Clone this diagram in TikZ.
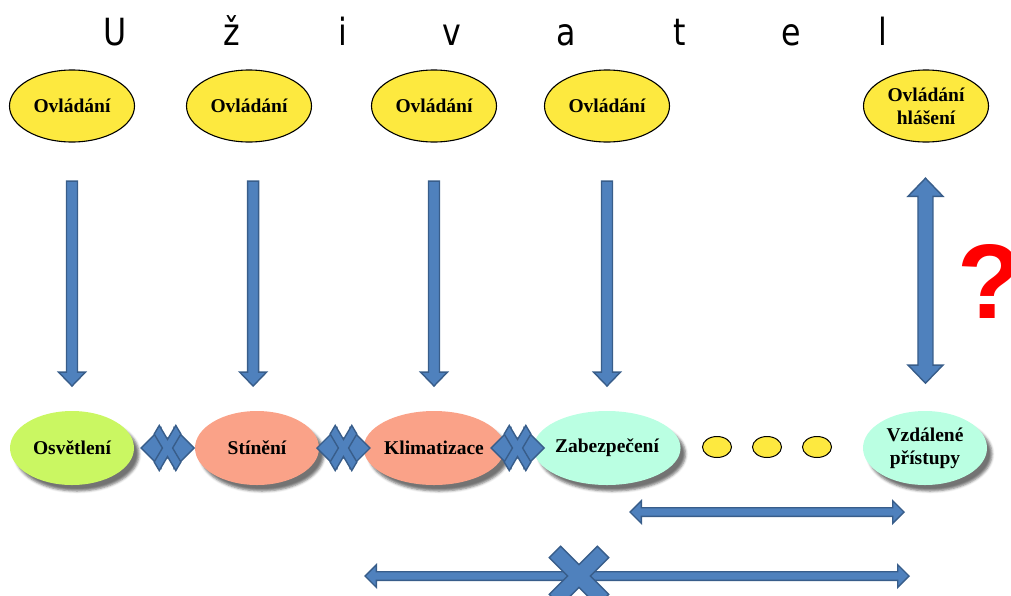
\documentclass[tikz,border=0pt]{standalone}
\usepackage{fontspec}
\setmainfont{Liberation Serif}
\newfontfamily\titlefont{DejaVu Sans}
\newfontfamily\markfont{Liberation Sans}
\usetikzlibrary{shapes.geometric,shapes.arrows,shadows.blur}
\definecolor{ctrlyellow}{RGB}{253,233,63}
\definecolor{limefill}{RGB}{202,247,98}
\definecolor{salmonfill}{RGB}{250,162,136}
\definecolor{mintfill}{RGB}{186,255,226}
\definecolor{arrowblue}{RGB}{79,129,189}
\definecolor{arrowedge}{RGB}{56,93,138}

\tikzset{
  pics/xmark/.style={code={
    \filldraw[fill=arrowblue, draw=arrowedge, line width=1.4pt, rotate=45]
      (8,8) -- (34,8) -- (34,-8) -- (8,-8) -- (8,-34) -- (-8,-34) -- (-8,-8)
      -- (-34,-8) -- (-34,8) -- (-8,8) -- (-8,34) -- (8,34) -- cycle;
  }}
}

\begin{document}
\begin{tikzpicture}[x=1pt,y=-1pt,
  lbl/.style={font=\fontsize{19.5}{23}\selectfont\bfseries, align=center, text=black},
  ctrl/.style={ellipse, draw=black, line width=1.1pt, fill=ctrlyellow,
    minimum width=125pt, minimum height=72pt, inner sep=0pt, lbl},
  dev/.style={ellipse, fill=#1, minimum width=124pt, minimum height=74pt,
    inner sep=0pt, lbl,
    blur shadow={shadow xshift=5pt, shadow yshift=-6pt,
      shadow blur radius=2.5pt, shadow opacity=55}},
  dotnode/.style={ellipse, draw=black, line width=1pt, fill=ctrlyellow,
    minimum width=29pt, minimum height=21pt, inner sep=0pt},
  blockbase/.style={fill=arrowblue, draw=arrowedge, line width=1.4pt},
  downarrow/.style={blockbase, single arrow, rotate=-90, inner sep=0pt,
    inner ysep=4.8pt, minimum height=205pt, minimum width=27pt,
    single arrow head extend=8pt, single arrow tip angle=88},
  bothway/.style={blockbase, double arrow, inner sep=0pt,
    inner ysep=6.8pt, minimum height=205pt, minimum width=35pt,
    double arrow head extend=10pt, double arrow tip angle=88},
  span/.style={blockbase, double arrow, inner sep=0pt,
    inner ysep=3.6pt, minimum height=#1, minimum width=22pt,
    double arrow head extend=7pt, double arrow tip angle=90},
  blocked/.style={blockbase, double arrow, inner sep=0pt,
    inner ysep=9pt, minimum height=53pt, minimum width=40pt,
    double arrow head extend=10pt, double arrow tip angle=90},
]
\useasboundingbox (0,0) rectangle (1011,595);

% heading, letter-spaced
\foreach \ch/\x [count=\i] in {U/115, ž/232, i/343, v/452, a/566, t/680, e/791, l/883}
  \node[font=\titlefont\fontsize{36}{36}\selectfont, anchor=base, inner sep=0pt,
        xscale=0.88, yscale=1.04]
    (title\i) at (\x,45) {\ch};

% control ellipses
\node[ctrl] (o1) at (72,106) {Ovládání};
\node[ctrl] (o2) at (249,106) {Ovládání};
\node[ctrl] (o3) at (434,106) {Ovládání};
\node[ctrl] (o4) at (607,106) {Ovládání};
\node[ctrl] (o5) at (926,106) {Ovládání\\hlášení};

% subsystems
\node[dev=limefill]   (d1) at (72,448)  {Osvětlení};
\node[dev=salmonfill] (d2) at (257,448) {Stínění};
\node[dev=salmonfill] (d3) at (434,448) {Klimatizace};
\node[dev=mintfill]   (d4) at (607,448) {Zabezpečení};
\node[dev=mintfill]   (d5) at (925,448) {Vzdálené\\přístupy};

% ellipsis dots
\node[dotnode] (e1) at (717,447) {};
\node[dotnode] (e2) at (767,447) {};
\node[dotnode] (e3) at (817,447) {};

% control arrows
\path (o1.south) -- (d1.north) node[pos=0.515, downarrow] (a1) {};
\path (o2.south) -- (d2.north) node[pos=0.515, downarrow] (a2) {};
\path (o3.south) -- (d3.north) node[pos=0.515, downarrow] (a3) {};
\path (o4.south) -- (d4.north) node[pos=0.515, downarrow] (a4) {};
\path (o5.south) -- (d5.north) node[pos=0.515, bothway, rotate=90] (a5) {};

% blocked links between neighbouring subsystems
\path (d1.east) -- (d2.west) coordinate[pos=0.55] (m12);
\path (d2.east) -- (d3.west) coordinate[pos=0.55] (m23);
\path (d3.east) -- (d4.west) coordinate[pos=0.45] (m34);
\foreach \m in {m12, m23, m34} {
  \node[blocked] at (\m) {};
  \pic[xscale=0.45, yscale=0.76] at (\m) {xmark};
}

% long-range links
\node[span=274pt] (s1) at (767,512) {};
\node[span=544pt] (s2) at (637,576) {};
\pic at (579,576) {xmark};

% open question
\node[font=\markfont\bfseries\fontsize{106}{106}\selectfont, text=red,
  anchor=base west, inner sep=0pt] (q) at (957,318) {?};
\end{tikzpicture}
\end{document}
